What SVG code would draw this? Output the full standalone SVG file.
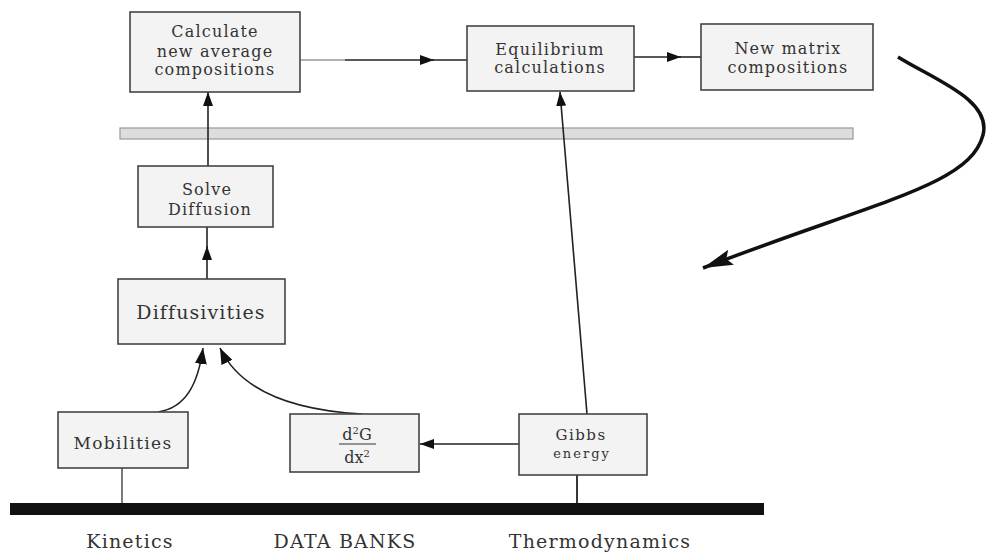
<svg xmlns="http://www.w3.org/2000/svg" width="986" height="553" viewBox="0 0 986 553">
<defs>
<style>
.box{fill:#f3f3f3;stroke:#444;stroke-width:1.6}
.t{font-family:"DejaVu Serif","Liberation Serif",serif;fill:#333;text-anchor:middle}
.s{font-size:16px;letter-spacing:1.2px}
.m{font-size:19px;letter-spacing:1.1px}
.l{font-size:19px;letter-spacing:1.2px}
.c{fill:none;stroke:#222;stroke-width:1.6}
</style>
<marker id="ah" viewBox="0 0 14 10" refX="14" refY="5" markerWidth="14" markerHeight="10" markerUnits="userSpaceOnUse" orient="auto">
<path d="M0,0 L14,5 L0,10 Z" fill="#111"/>
</marker>
<marker id="ahc" viewBox="0 0 16 12" refX="16" refY="6" markerWidth="16" markerHeight="12" markerUnits="userSpaceOnUse" orient="auto">
<path d="M0,0 L16,6 L0,12 Z" fill="#111"/>
</marker>
<marker id="ahb" viewBox="0 0 30 16" refX="30" refY="8" markerWidth="30" markerHeight="16" markerUnits="userSpaceOnUse" orient="auto">
<path d="M0,0 L30,8 L0,16 L5,8 Z" fill="#111"/>
</marker>
</defs>
<rect width="986" height="553" fill="#fff"/>
<rect x="120" y="128" width="733" height="11" fill="#ddd" stroke="#999" stroke-width="1.2"/>
<rect x="10" y="503" width="754" height="12" fill="#111"/>

<g id="connectors">
<line x1="300" y1="60" x2="345" y2="60" stroke="#666" stroke-width="1"/>
<line x1="345" y1="60" x2="434" y2="60" class="c" stroke-width="2" marker-end="url(#ah)"/>
<line x1="430" y1="60" x2="467" y2="60" class="c" stroke-width="2"/>
<line x1="634" y1="57" x2="681" y2="57" class="c" stroke-width="2" marker-end="url(#ah)"/>
<line x1="678" y1="57" x2="701" y2="57" class="c" stroke-width="2"/>
<line x1="208" y1="166" x2="208" y2="92" class="c" marker-end="url(#ah)"/>
<line x1="207" y1="279" x2="207" y2="246" class="c" marker-end="url(#ah)"/>
<line x1="207" y1="250" x2="207" y2="227" class="c"/>
<line x1="587" y1="414" x2="560" y2="92" class="c" marker-end="url(#ah)"/>
<line x1="519" y1="444" x2="420" y2="444" class="c" marker-end="url(#ah)"/>
<path d="M158,412 C185,408 198,385 203,348" class="c" stroke-width="2" marker-end="url(#ahc)"/>
<path d="M362,414 C290,410 240,390 220,348" class="c" stroke-width="2" marker-end="url(#ahc)"/>
<line x1="122" y1="468" x2="122" y2="503" stroke="#444" stroke-width="1.4"/>
<line x1="577" y1="475" x2="577" y2="503" stroke="#222" stroke-width="1.8"/>
<path d="M898,57 C935,80 992,100 983,135 C970,185 880,200 703,268" fill="none" stroke="#111" stroke-width="3.5" marker-end="url(#ahb)"/>
</g>

<g id="calc">
<rect x="130" y="12" width="170" height="80" class="box"/>
<text class="t s" x="215" y="37">Calculate</text>
<text class="t s" x="215" y="57">new average</text>
<text class="t s" x="215" y="75">compositions</text>
</g>
<g id="equil">
<rect x="467" y="26" width="167" height="65" class="box"/>
<text class="t s" x="550" y="55">Equilibrium</text>
<text class="t s" x="550" y="73">calculations</text>
</g>
<g id="newmatrix">
<rect x="701" y="24" width="172" height="66" class="box"/>
<text class="t s" x="788" y="54">New matrix</text>
<text class="t s" x="788" y="73">compositions</text>
</g>
<g id="solve">
<rect x="138" y="166" width="135" height="61" class="box"/>
<text class="t s" x="207" y="195">Solve</text>
<text class="t s" x="210" y="215">Diffusion</text>
</g>
<g id="diffusivities">
<rect x="118" y="279" width="167" height="65" class="box"/>
<text class="t m" x="201" y="319">Diffusivities</text>
</g>
<g id="mobilities">
<rect x="58" y="412" width="130" height="56" class="box"/>
<text class="t" font-size="17" letter-spacing="1.3" x="123" y="449">Mobilities</text>
</g>
<g id="d2g">
<rect x="290" y="414" width="129" height="58" class="box"/>
<text class="t" font-size="16" x="357" y="440">d<tspan font-size="10" dy="-6">2</tspan><tspan dy="6">G</tspan></text>
<line x1="339" y1="444" x2="376" y2="444" stroke="#333" stroke-width="1.2"/>
<text class="t" font-size="16" x="357" y="463">dx<tspan font-size="10" dy="-6">2</tspan></text>
</g>
<g id="gibbs">
<rect x="519" y="414" width="128" height="61" class="box"/>
<text class="t" font-size="15" letter-spacing="1.5" x="581" y="440">Gibbs</text>
<text class="t" font-size="13" letter-spacing="2" x="582" y="458">energy</text>
</g>
<g id="labels">
<text class="t l" x="130" y="548">Kinetics</text>
<text class="t l" letter-spacing="2.5" x="345" y="548">DATA BANKS</text>
<text class="t l" x="600" y="548">Thermodynamics</text>
</g>
</svg>
